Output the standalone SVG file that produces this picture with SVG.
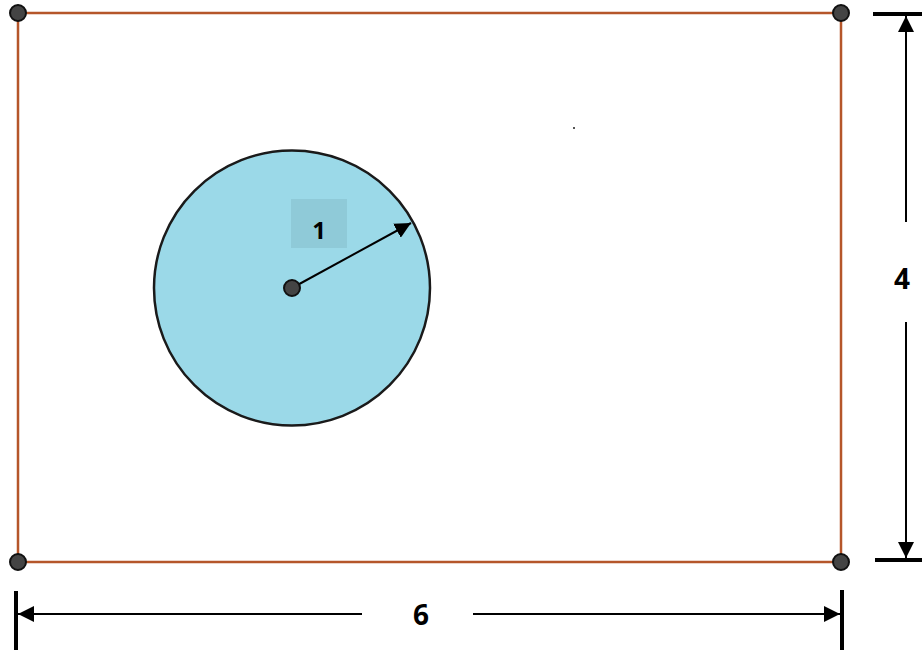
<svg xmlns="http://www.w3.org/2000/svg" width="922" height="650" viewBox="0 0 922 650">
<style>
.dim{stroke:#000;stroke-width:2;fill:none}
.bar{stroke:#000;stroke-width:4}
.corner{fill:#444;stroke:#111;stroke-width:2}
.lbl{font-family:"Open Sans","Liberation Sans",sans-serif;font-weight:bold;fill:#000;text-anchor:middle}
</style>
<defs>
<marker id="ahb" viewBox="0 0 10 10" refX="10" refY="5" markerWidth="16" markerHeight="16" markerUnits="userSpaceOnUse" orient="auto">
<path d="M0,0 L10,5 L0,10 z" fill="#000"/>
</marker>
</defs>
<rect width="922" height="650" fill="#fff"/>
<g id="rectangle">
<rect x="18" y="13" width="823" height="549" fill="none" stroke="#b5562a" stroke-width="2.5"/>
</g>
<g id="circle">
<ellipse cx="292" cy="288" rx="138" ry="137.5" fill="#9bd9e8" stroke="#1a1a1a" stroke-width="2.5"/>
</g>
<g id="label-1">
<rect x="291" y="199" width="56" height="49" fill="#8fcad8"/>
<text class="lbl" x="319" y="239" font-size="24" font-weight="600">1</text>
</g>
<g id="connectors">
<line class="dim" x1="292" y1="288" x2="411" y2="223" stroke-width="2.5" marker-end="url(#ahb)"/>
<line class="bar" x1="873" y1="14" x2="922" y2="14"/>
<line class="bar" x1="875" y1="560" x2="922" y2="560"/>
<line class="dim" x1="906" y1="222" x2="906" y2="16" marker-end="url(#ahb)"/>
<line class="dim" x1="906" y1="322" x2="906" y2="558" marker-end="url(#ahb)"/>
<line class="bar" x1="16" y1="591" x2="16" y2="650"/>
<line class="bar" x1="842" y1="590" x2="842" y2="650"/>
<line class="dim" x1="362" y1="614" x2="18" y2="614" marker-end="url(#ahb)"/>
<line class="dim" x1="473" y1="614" x2="840" y2="614" marker-end="url(#ahb)"/>
</g>
<g id="corners">
<circle class="corner" cx="18" cy="13" r="8"/>
<circle class="corner" cx="841" cy="13" r="8"/>
<circle class="corner" cx="18" cy="562" r="8"/>
<circle class="corner" cx="841" cy="562" r="8"/>
<circle class="corner" cx="292" cy="288" r="8"/>
</g>
<g id="dim-labels">
<text class="lbl" x="902" y="289" font-size="28">4</text>
<text class="lbl" x="421" y="625" font-size="28">6</text>
</g>
<rect x="573" y="127" width="2" height="2" fill="#555"/>
</svg>
